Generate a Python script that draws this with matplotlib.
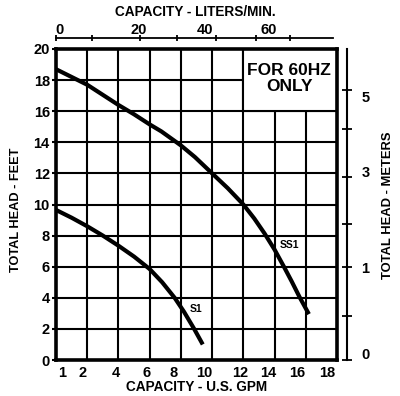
import matplotlib
matplotlib.use("Agg")
import matplotlib.pyplot as plt
from matplotlib.patches import Rectangle

plt.rcParams["font.family"] = ["Liberation Sans", "DejaVu Sans"]
plt.rcParams["font.weight"] = "bold"

# pump curves, capacity in US GPM vs total head in feet
ss1_gpm = [0, 1, 2, 3, 4, 5, 6, 6.75, 8, 8.9, 10, 11, 12, 12.7, 13.35,
           14.0, 14.6, 15.1, 15.6, 16.2]
ss1_head = [18.7, 18.2, 17.7, 17.05, 16.4, 15.8, 15.15, 14.7, 13.8, 13.05,
            12.0, 11.05, 10.0, 9.1, 8.15, 7.1, 6.0, 5.05, 4.05, 2.95]
s1_gpm = [0, 1, 2, 3, 4, 5, 6, 6.8, 7.6, 8.2, 8.85, 9.4]
s1_head = [9.65, 9.15, 8.6, 8.0, 7.35, 6.65, 5.85, 5.0, 4.0, 3.1, 2.0, 1.0]

# bottom axis: GPM labels (hand lettered, slightly off the grid)
gpm_labels = ["1", "2", "4", "6", "8", "10", "12", "14", "16", "18"]
gpm_label_pos = [0.39, 1.68, 3.81, 5.81, 7.55, 9.48, 11.81, 13.61, 15.48, 17.35]
feet_ticks = list(range(0, 21, 2))
grid_x = list(range(2, 17, 2))
grid_y = list(range(2, 19, 2))

# top axis: liters/min scale drawn against the GPM axis
lpm_tick_pos = [-0.1, 2.2, 5.3, 7.7, 10.2, 12.8, 15.0]
lpm_labels = ["0", "20", "40", "60"]
lpm_label_pos = [0.13, 5.23, 9.48, 13.6]

# right axis: meters scale drawn against the feet axis
m_tick_pos = [0, 2.83, 5.98, 8.75, 11.77, 14.86, 17.36]
m_labels = ["0", "1", "3", "5"]
m_label_pos = [0.39, 5.94, 12.1, 16.97]

W, H = 400, 396


def fx(px):
    return px / W


def fy(py):
    return 1 - py / H


fig = plt.figure(figsize=(W / 100, H / 100), dpi=100)
ax = fig.add_axes([fx(56), fy(360), 281 / W, 311 / H])
ax.set_xlim(0, 18)
ax.set_ylim(0, 20)

ax.vlines(grid_x, 0, 20, color="black", lw=1.5, zorder=1)
ax.hlines(grid_y, 0, 18, color="black", lw=1.5, zorder=1)
ax.add_patch(Rectangle((12, 16), 6, 4, facecolor="white", edgecolor="black",
                       lw=1.5, zorder=2))
ax.text(14.95, 18.1, "FOR 60HZ\nONLY", ha="center", va="center",
        fontsize=12.5, fontweight="bold", linespacing=1.05, zorder=3)

ax.plot(ss1_gpm, ss1_head, color="black", lw=3, solid_capstyle="butt",
        solid_joinstyle="round", zorder=4)
ax.plot(s1_gpm, s1_head, color="black", lw=3, solid_capstyle="butt",
        solid_joinstyle="round", zorder=4)
ax.text(14.93, 7.4, "SS1", ha="center", va="center", fontsize=7.5, zorder=5)
ax.text(8.97, 3.3, "S1", ha="center", va="center", fontsize=7.5, zorder=5)

for sp in ax.spines.values():
    sp.set_linewidth(2.6)
    sp.set_zorder(6)
ax.set_xticks(gpm_label_pos, gpm_labels)
ax.set_yticks(feet_ticks, [str(v) for v in feet_ticks])
ax.tick_params(axis="x", length=0, pad=4, labelsize=10.5)
ax.tick_params(axis="y", length=3, width=1.5, pad=1.5, labelsize=10.5)

# top liters/min scale
ax_top = fig.add_axes([fx(56), fy(38), 281 / W, 0.0001])
ax_top.set_xlim(0, 18)
ax_top.patch.set_visible(False)
for name, sp in ax_top.spines.items():
    sp.set_visible(name == "bottom")
ax_top.spines["bottom"].set_bounds(-0.1, 17.75)
ax_top.spines["bottom"].set_linewidth(1.3)
ax_top.set_yticks([])
ax_top.set_xticks(lpm_tick_pos, [""] * len(lpm_tick_pos))
ax_top.set_xticks(lpm_label_pos, lpm_labels, minor=True)
ax_top.tick_params(axis="x", which="major", direction="inout", length=5,
                   width=1.3, bottom=True, labelbottom=False)
ax_top.tick_params(axis="x", which="minor", length=0, bottom=False, top=True,
                   labelbottom=False, labeltop=True, pad=1, labelsize=10.5)

# right meters scale
ax_r = fig.add_axes([fx(347), fy(360), 0.0001, 311 / H])
ax_r.set_ylim(0, 20)
ax_r.patch.set_visible(False)
for name, sp in ax_r.spines.items():
    sp.set_visible(name == "right")
ax_r.spines["right"].set_linewidth(1.5)
ax_r.set_xticks([])
ax_r.yaxis.tick_right()
ax_r.set_yticks(m_tick_pos, [""] * len(m_tick_pos))
ax_r.set_yticks(m_label_pos, m_labels, minor=True)
ax_r.tick_params(axis="y", which="major", direction="inout", length=7,
                 width=1.3, left=False, right=True, labelright=False)
ax_r.tick_params(axis="y", which="minor", length=0, left=False, right=True,
                 labelleft=False, labelright=True, pad=10.5, labelsize=10.5)

fig.text(fx(195), fy(12), "CAPACITY - LITERS/MIN.", ha="center", va="center",
         fontsize=9.8, fontweight="bold")
fig.text(fx(197), fy(387), "CAPACITY - U.S. GPM", ha="center", va="center",
         fontsize=9.8, fontweight="bold")
fig.text(fx(16), fy(210), "TOTAL HEAD - FEET", ha="center", va="center",
         rotation=90, fontsize=9.2, fontweight="bold")
fig.text(fx(388), fy(205), "TOTAL HEAD - METERS", ha="center", va="center",
         rotation=90, fontsize=9.4, fontweight="bold")

fig.savefig("out.png", dpi=100)
